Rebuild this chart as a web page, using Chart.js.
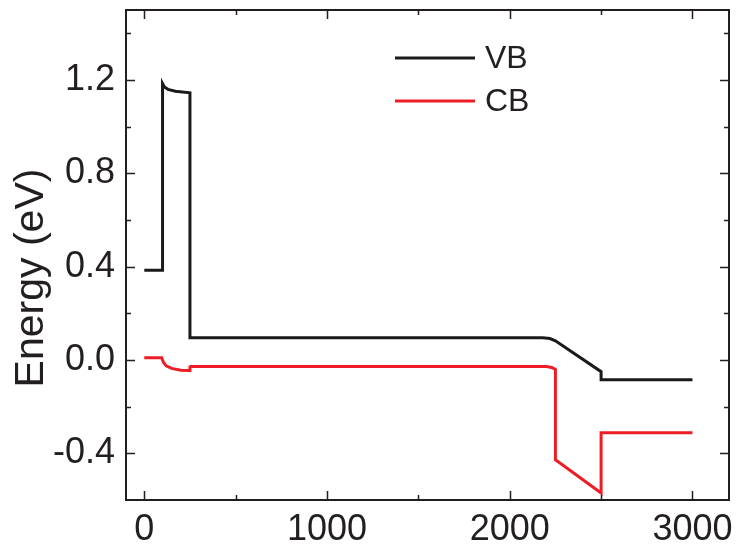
<!DOCTYPE html>
<html>
<head>
<meta charset="utf-8">
<script src="https://cdn.jsdelivr.net/npm/chart.js@4.4.0/dist/chart.umd.min.js"></script>
<style>
  html, body { margin: 0; padding: 0; background: #fff; }
  #wrap { width: 740px; height: 550px; }
</style>
</head>
<body>
<div id="wrap"><canvas id="bandChart" width="740" height="550"></canvas></div>
<script>
// band edge data
const vbX = [0, 100, 100, 110, 130, 170, 250, 250, 2180, 2220, 2250, 2500, 2500, 3000];
const vbY = [0.385, 0.385, 1.185, 1.17, 1.16, 1.152, 1.145, 0.095, 0.095, 0.092, 0.082, -0.05, -0.085, -0.085];

const cbX = [0, 95, 105, 120, 150, 200, 245, 250, 255, 2200, 2230, 2250, 2250, 2500, 2500, 3000];
const cbY = [0.01, 0.01, -0.01, -0.025, -0.036, -0.044, -0.045, -0.03, -0.028, -0.028, -0.032, -0.04, -0.427, -0.57, -0.312, -0.312];

const xMajorTicks = [0, 1000, 2000, 3000];
const xMinorTicks = [500, 1500, 2500];
const yMajorTicks = [-0.4, 0.0, 0.4, 0.8, 1.2];
const yMinorTicks = [-0.2, 0.2, 0.6, 1.0, 1.4];

const yTitle = 'Energy (eV)';

const axisColor = '#231f20';
const fontFamily = '"Liberation Sans", Arial, sans-serif';

function toPoints(xs, ys) {
  return xs.map((x, i) => ({ x: x, y: ys[i] }));
}

// frame with inward ticks on all four sides, plus the y title
const framePlugin = {
  id: 'frame',
  afterDraw(chart) {
    const ctx = chart.ctx;
    const a = chart.chartArea;
    const xs = chart.scales.x;
    const ys = chart.scales.y;
    ctx.save();
    ctx.strokeStyle = axisColor;
    ctx.lineWidth = 2;
    ctx.strokeRect(a.left, a.top, a.right - a.left, a.bottom - a.top);
    ctx.lineWidth = 1.5;
    ctx.beginPath();
    const xt = (vals, len) => vals.forEach(v => {
      const px = Math.round(xs.getPixelForValue(v)) + 0.5;
      ctx.moveTo(px, a.bottom); ctx.lineTo(px, a.bottom - len);
      ctx.moveTo(px, a.top); ctx.lineTo(px, a.top + len);
    });
    const yt = (vals, len) => vals.forEach(v => {
      const py = Math.round(ys.getPixelForValue(v)) + 0.5;
      ctx.moveTo(a.left, py); ctx.lineTo(a.left + len, py);
      ctx.moveTo(a.right, py); ctx.lineTo(a.right - len, py);
    });
    xt(xMajorTicks, 9);
    xt(xMinorTicks, 5);
    yt(yMajorTicks, 9);
    yt(yMinorTicks, 5);
    ctx.stroke();

    // y axis title, sits a bit below the middle like the original
    ctx.translate(43, 278);
    ctx.rotate(-Math.PI / 2);
    ctx.font = '41px ' + fontFamily;
    ctx.fillStyle = axisColor;
    ctx.textAlign = 'center';
    ctx.textBaseline = 'alphabetic';
    ctx.fillText(yTitle, 0, 0);
    ctx.restore();
  }
};

// legend drawn inside the plot area
const legendPlugin = {
  id: 'insideLegend',
  afterDraw(chart) {
    const ctx = chart.ctx;
    ctx.save();
    ctx.font = '32px ' + fontFamily;
    ctx.textBaseline = 'middle';
    chart.data.datasets.forEach((ds, i) => {
      const y = 58 + i * 43;
      ctx.strokeStyle = ds.borderColor;
      ctx.lineWidth = 3;
      ctx.beginPath();
      ctx.moveTo(395, y);
      ctx.lineTo(475, y);
      ctx.stroke();
      ctx.fillStyle = axisColor;
      ctx.fillText(ds.label, 485, y + 1);
    });
    ctx.restore();
  }
};

const ctx = document.getElementById('bandChart').getContext('2d');
const bandChart = new Chart(ctx, {
  type: 'line',
  data: {
    datasets: [{
      label: 'VB',
      data: toPoints(vbX, vbY),
      borderColor: '#1a1a1a',
      borderWidth: 3,
      pointRadius: 0,
      tension: 0,
      fill: false
    }, {
      label: 'CB',
      data: toPoints(cbX, cbY),
      borderColor: '#ee1c25',
      borderWidth: 3,
      pointRadius: 0,
      tension: 0,
      fill: false
    }]
  },
  options: {
    responsive: false,
    animation: false,
    layout: {
      padding: { top: 10, right: 11, left: 0, bottom: 0 }
    },
    scales: {
      x: {
        type: 'linear',
        min: -100,
        max: 3200,
        grid: { display: false, drawTicks: false },
        border: { display: false },
        afterBuildTicks(scale) {
          scale.ticks = xMajorTicks.map(v => ({ value: v }));
        },
        afterFit(scale) {
          scale.height = 50;
          scale.paddingLeft = 0;
          scale.paddingRight = 0;
        },
        ticks: {
          color: axisColor,
          padding: 8,
          maxRotation: 0,
          font: { family: fontFamily, size: 36 },
          callback: v => String(v)
        }
      },
      y: {
        type: 'linear',
        min: -0.6,
        max: 1.5,
        grid: { display: false, drawTicks: false },
        border: { display: false },
        afterBuildTicks(scale) {
          scale.ticks = yMajorTicks.map(v => ({ value: v }));
        },
        afterFit(scale) {
          scale.width = 126;
          scale.paddingTop = 0;
          scale.paddingBottom = 0;
        },
        ticks: {
          color: axisColor,
          padding: 11,
          font: { family: fontFamily, size: 36 },
          callback: v => v.toFixed(1)
        }
      }
    },
    plugins: {
      legend: { display: false },
      tooltip: { enabled: false }
    }
  },
  plugins: [framePlugin, legendPlugin]
});
</script>
</body>
</html>
